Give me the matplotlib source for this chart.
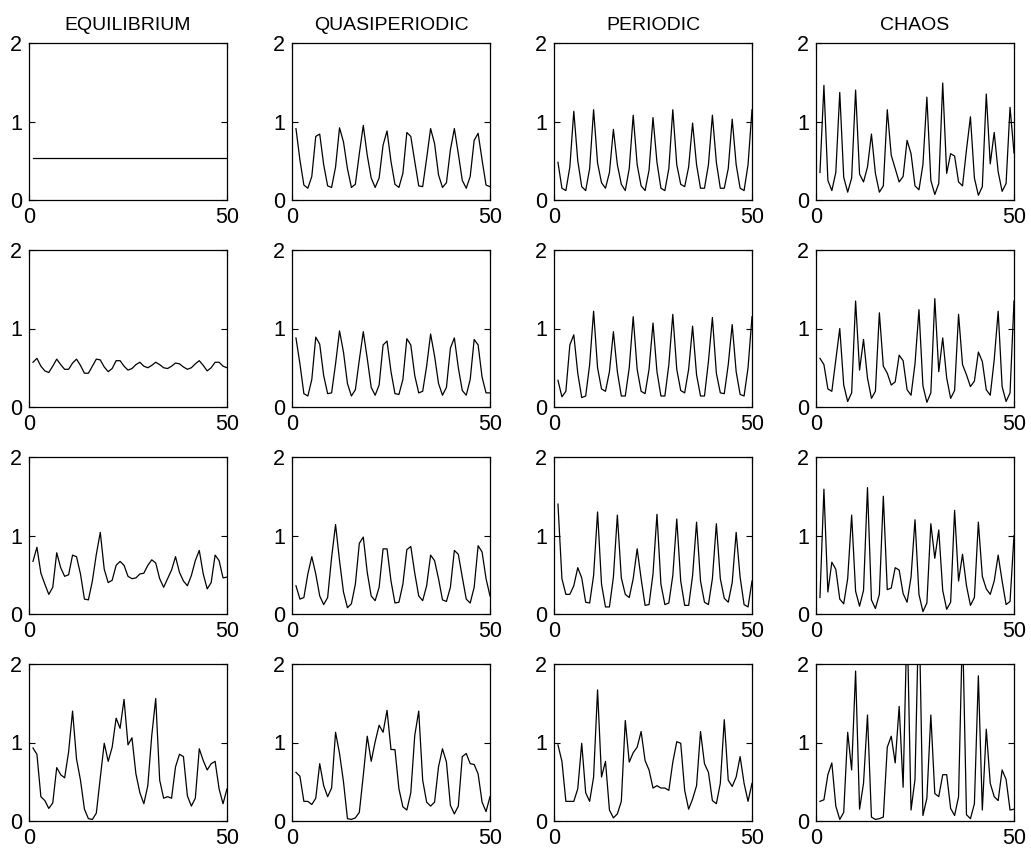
import numpy as np
import matplotlib.pyplot as plt

plt.rcParams["font.family"] = ["Liberation Sans", "DejaVu Sans"]

titles = ["EQUILIBRIUM", "QUASIPERIODIC", "PERIODIC", "CHAOS"]
steps = np.arange(1, 51)

# --- row 1 ---
eq_1 = [0.53] * 50
qp_1 = [0.91, 0.51, 0.19, 0.15, 0.30, 0.81, 0.84, 0.45, 0.18, 0.16,
        0.42, 0.92, 0.74, 0.40, 0.16, 0.20, 0.59, 0.95, 0.57, 0.28,
        0.16, 0.28, 0.70, 0.88, 0.49, 0.20, 0.16, 0.34, 0.86, 0.81,
        0.49, 0.18, 0.17, 0.53, 0.91, 0.72, 0.32, 0.16, 0.22, 0.64,
        0.91, 0.59, 0.25, 0.15, 0.30, 0.76, 0.85, 0.51, 0.19, 0.17]
per_1 = [0.48, 0.15, 0.12, 0.42, 1.13, 0.50, 0.17, 0.12, 0.40, 1.15,
         0.47, 0.22, 0.15, 0.35, 0.90, 0.45, 0.20, 0.12, 0.40, 1.08,
         0.45, 0.18, 0.12, 0.38, 1.05, 0.48, 0.15, 0.12, 0.40, 1.15,
         0.45, 0.20, 0.17, 0.42, 0.98, 0.45, 0.15, 0.15, 0.45, 1.08,
         0.48, 0.15, 0.15, 0.40, 1.03, 0.45, 0.15, 0.12, 0.45, 1.15]
ch_1 = [0.35, 1.46, 0.25, 0.12, 0.35, 1.37, 0.29, 0.10, 0.28, 1.40,
        0.33, 0.23, 0.42, 0.84, 0.34, 0.10, 0.18, 1.15, 0.57, 0.40,
        0.23, 0.30, 0.76, 0.59, 0.18, 0.13, 0.45, 1.31, 0.25, 0.07,
        0.21, 1.49, 0.34, 0.59, 0.56, 0.23, 0.18, 0.64, 1.06, 0.28,
        0.06, 0.17, 1.35, 0.46, 0.86, 0.36, 0.11, 0.21, 1.18, 0.60]

# --- row 2 ---
eq_2 = [0.57, 0.62, 0.52, 0.46, 0.44, 0.52, 0.61, 0.54, 0.48, 0.48,
        0.56, 0.61, 0.53, 0.43, 0.43, 0.52, 0.61, 0.60, 0.51, 0.45,
        0.49, 0.59, 0.59, 0.52, 0.47, 0.49, 0.54, 0.57, 0.52, 0.50,
        0.53, 0.57, 0.54, 0.50, 0.49, 0.52, 0.56, 0.55, 0.51, 0.48,
        0.50, 0.55, 0.59, 0.53, 0.46, 0.50, 0.57, 0.57, 0.52, 0.50]
qp_2 = [0.88, 0.55, 0.17, 0.14, 0.35, 0.89, 0.80, 0.40, 0.17, 0.18,
        0.55, 0.97, 0.70, 0.30, 0.14, 0.22, 0.60, 0.96, 0.62, 0.25,
        0.15, 0.28, 0.79, 0.84, 0.45, 0.17, 0.16, 0.35, 0.87, 0.79,
        0.40, 0.18, 0.20, 0.52, 0.93, 0.65, 0.30, 0.15, 0.25, 0.75,
        0.88, 0.50, 0.21, 0.15, 0.35, 0.86, 0.79, 0.38, 0.18, 0.18]
per_2 = [0.34, 0.13, 0.20, 0.79, 0.92, 0.43, 0.12, 0.14, 0.54, 1.22,
         0.50, 0.23, 0.20, 0.45, 0.96, 0.45, 0.14, 0.14, 0.50, 1.15,
         0.48, 0.20, 0.17, 0.48, 1.07, 0.45, 0.14, 0.14, 0.54, 1.18,
         0.48, 0.21, 0.18, 0.48, 1.03, 0.41, 0.14, 0.14, 0.58, 1.14,
         0.43, 0.18, 0.17, 0.54, 1.05, 0.45, 0.16, 0.14, 0.50, 1.15]
ch_2 = [0.62, 0.54, 0.23, 0.20, 0.60, 1.00, 0.28, 0.07, 0.18, 1.35,
        0.47, 0.86, 0.37, 0.11, 0.20, 1.20, 0.52, 0.43, 0.28, 0.32,
        0.66, 0.59, 0.22, 0.15, 0.55, 1.24, 0.27, 0.06, 0.18, 1.38,
        0.45, 0.88, 0.37, 0.11, 0.21, 1.18, 0.54, 0.41, 0.26, 0.33,
        0.70, 0.58, 0.22, 0.15, 0.60, 1.22, 0.26, 0.07, 0.18, 1.35]

# --- row 3 ---
eq_3 = [0.67, 0.85, 0.52, 0.38, 0.25, 0.34, 0.78, 0.59, 0.48, 0.50,
        0.75, 0.73, 0.51, 0.19, 0.18, 0.42, 0.76, 1.04, 0.57, 0.40,
        0.43, 0.62, 0.67, 0.62, 0.48, 0.45, 0.46, 0.51, 0.52, 0.62,
        0.69, 0.65, 0.45, 0.34, 0.45, 0.56, 0.73, 0.53, 0.42, 0.36,
        0.49, 0.68, 0.81, 0.51, 0.32, 0.40, 0.75, 0.68, 0.46, 0.47]
qp_3 = [0.36, 0.19, 0.21, 0.51, 0.73, 0.51, 0.23, 0.12, 0.21, 0.72,
        1.14, 0.68, 0.28, 0.08, 0.13, 0.38, 0.90, 0.98, 0.53, 0.23,
        0.17, 0.34, 0.83, 0.83, 0.42, 0.14, 0.15, 0.38, 0.82, 0.86,
        0.52, 0.23, 0.17, 0.36, 0.75, 0.68, 0.45, 0.18, 0.16, 0.34,
        0.81, 0.76, 0.47, 0.19, 0.14, 0.34, 0.87, 0.79, 0.45, 0.23]
per_3 = [1.40, 0.45, 0.25, 0.25, 0.36, 0.59, 0.46, 0.15, 0.14, 0.49,
         1.30, 0.38, 0.09, 0.09, 0.47, 1.26, 0.46, 0.25, 0.21, 0.45,
         0.83, 0.45, 0.11, 0.12, 0.51, 1.27, 0.38, 0.12, 0.14, 0.49,
         1.21, 0.42, 0.11, 0.11, 0.49, 1.17, 0.42, 0.15, 0.12, 0.45,
         1.15, 0.45, 0.20, 0.15, 0.40, 1.04, 0.47, 0.12, 0.09, 0.42]
ch_3 = [0.21, 1.59, 0.28, 0.66, 0.57, 0.19, 0.13, 0.45, 1.26, 0.29,
        0.10, 0.30, 1.61, 0.18, 0.07, 0.25, 1.50, 0.31, 0.33, 0.59,
        0.56, 0.26, 0.15, 0.47, 1.20, 0.25, 0.03, 0.14, 1.15, 0.71,
        1.07, 0.30, 0.06, 0.15, 1.32, 0.42, 0.76, 0.36, 0.11, 0.21,
        1.17, 0.48, 0.32, 0.25, 0.42, 0.75, 0.42, 0.12, 0.16, 1.00]

# --- row 4 ---
eq_4 = [0.93, 0.85, 0.31, 0.26, 0.16, 0.23, 0.68, 0.59, 0.55, 0.88,
        1.40, 0.79, 0.52, 0.15, 0.03, 0.02, 0.10, 0.55, 0.99, 0.76,
        0.94, 1.31, 1.18, 1.55, 0.97, 1.06, 0.60, 0.36, 0.22, 0.45,
        1.09, 1.56, 0.52, 0.29, 0.31, 0.29, 0.69, 0.85, 0.82, 0.32,
        0.19, 0.29, 0.92, 0.77, 0.65, 0.73, 0.76, 0.41, 0.22, 0.41]
qp_4 = [0.62, 0.57, 0.25, 0.25, 0.21, 0.29, 0.73, 0.45, 0.31, 0.42,
        1.13, 0.86, 0.50, 0.03, 0.02, 0.04, 0.11, 0.58, 1.08, 0.76,
        1.01, 1.22, 1.13, 1.41, 0.91, 0.91, 0.41, 0.18, 0.14, 0.36,
        1.09, 1.40, 0.52, 0.24, 0.19, 0.24, 0.69, 0.92, 0.75, 0.20,
        0.09, 0.19, 0.82, 0.86, 0.73, 0.72, 0.60, 0.24, 0.12, 0.31]
per_4 = [0.97, 0.76, 0.25, 0.25, 0.25, 0.41, 0.99, 0.36, 0.25, 0.56,
         1.67, 0.56, 0.76, 0.14, 0.04, 0.09, 0.25, 1.28, 0.75, 0.87,
         0.94, 1.14, 0.77, 0.65, 0.42, 0.45, 0.42, 0.42, 0.39, 0.75,
         1.01, 0.99, 0.39, 0.15, 0.28, 0.45, 1.14, 0.73, 0.62, 0.26,
         0.22, 0.48, 1.29, 0.52, 0.44, 0.56, 0.82, 0.48, 0.25, 0.48]
ch_4 = [0.25, 0.27, 0.59, 0.74, 0.19, 0.02, 0.11, 1.13, 0.65, 1.91,
        0.15, 0.48, 1.35, 0.05, 0.02, 0.03, 0.05, 0.94, 1.08, 0.74,
        1.46, 0.43, 2.60, 0.14, 0.53, 2.80, 0.07, 0.29, 1.35, 0.35,
        0.31, 0.59, 0.59, 0.16, 0.07, 0.31, 2.50, 0.08, 0.03, 0.22,
        1.85, 0.14, 1.17, 0.48, 0.31, 0.26, 0.65, 0.53, 0.14, 0.15]

rows = [
    [eq_1, qp_1, per_1, ch_1],
    [eq_2, qp_2, per_2, ch_2],
    [eq_3, qp_3, per_3, ch_3],
    [eq_4, qp_4, per_4, ch_4],
]

W, H = 1031, 850
fig = plt.figure(figsize=(W / 100, H / 100), dpi=100)

# panel boxes in pixels (left edges, top edges, size)
lefts = [29, 292, 554, 816]
tops = [43, 250, 457, 664]
pw, ph = 198, 157

for r, row in enumerate(rows):
    for c, series in enumerate(row):
        ax = fig.add_axes([lefts[c] / W, 1 - (tops[r] + ph) / H, pw / W, ph / H])
        ax.plot(steps, series, color="black", linewidth=0.9)
        ax.set_xlim(0, 50)
        ax.set_ylim(0, 2)
        ax.set_xticks([0, 50])
        ax.set_yticks([0, 1, 2])
        ax.tick_params(direction="in", top=True, right=True, length=4,
                       width=0.8, labelsize=15.5, pad=5)
        for sp in ax.spines.values():
            sp.set_linewidth(0.9)
        if r == 0:
            ax.set_title(titles[c], fontsize=14, pad=9)

fig.savefig("out.png", dpi=100)
